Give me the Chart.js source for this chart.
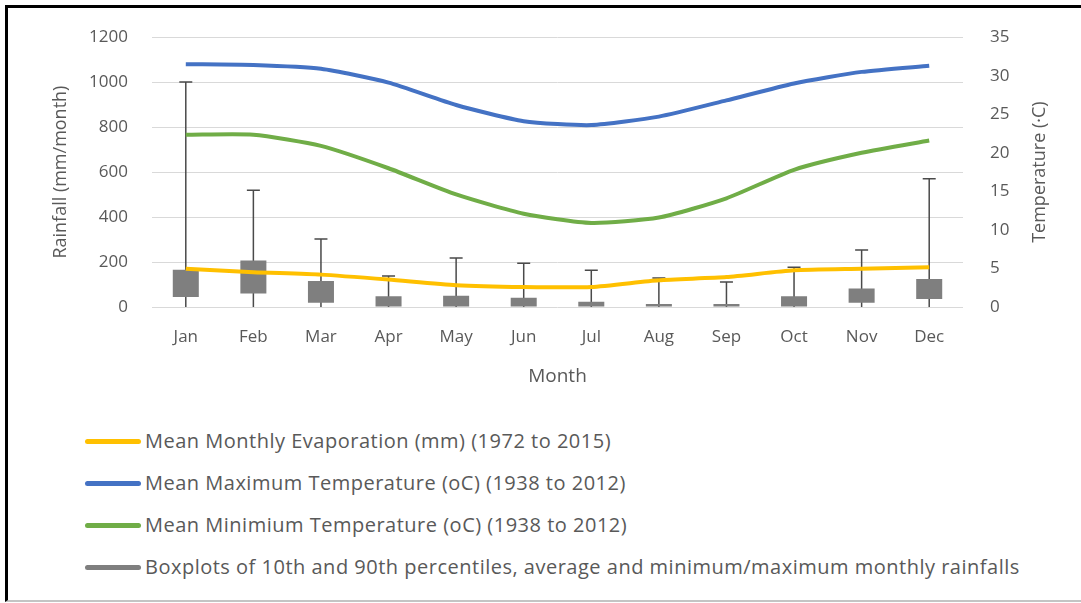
<!DOCTYPE html>
<html>
<head>
<meta charset="utf-8">
<script src="https://cdn.jsdelivr.net/npm/chart.js@4/dist/chart.umd.min.js"></script>
<style>
  html, body { margin: 0; padding: 0; background: #fff; overflow: hidden; }
  body { width: 1081px; height: 603px; position: relative; font-family: "Open Sans", sans-serif; }
  #frame {
    position: absolute; left: 5px; top: 5px; width: 1100px; height: 592px;
    border-top: 3px solid #000; border-left: 3px solid #000; border-bottom: 2px solid #c4c4c4;
  }
  #chart { position: absolute; left: 0; top: 0; }
  #legend { position: absolute; left: 85px; top: 420px; }
  .item { position: absolute; left: 0; height: 24px; white-space: nowrap; }
  .swatch { position: absolute; left: 0; top: 9px; width: 56px; height: 5px; border-radius: 3px; }
  .label { position: absolute; left: 60px; top: -3px; font-size: 20px; letter-spacing: 0.5px; color: #595959; }
</style>
</head>
<body>
<div id="frame"></div>
<canvas id="chart" width="1081" height="400"></canvas>
<div id="legend"></div>
<script>
const months = ['Jan', 'Feb', 'Mar', 'Apr', 'May', 'Jun', 'Jul', 'Aug', 'Sep', 'Oct', 'Nov', 'Dec'];
const evaporation = [170, 155, 144, 122, 97, 89, 89, 119, 133, 163, 170, 177];
const maxTemp = [31.5, 31.4, 30.9, 29.1, 26.2, 24.1, 23.6, 24.7, 26.8, 29.0, 30.5, 31.3];
const minTemp = [22.35, 22.35, 20.9, 18.0, 14.6, 12.1, 10.9, 11.6, 14.1, 17.8, 20.0, 21.6];
const rainP10 = [45, 60, 19, 0, 0, 0, 0, 0, 0, 0, 19, 36];
const rainP90 = [166, 207, 116, 48, 50, 41, 23, 13, 13, 48, 82, 124];
const rainMin = [0, 0, 0, 0, 0, 0, 0, 0, 0, 0, 0, 0];
const rainMax = [1001, 519, 302, 138, 218, 195, 163, 129, 111, 177, 254, 570];

const grey = '#595959';
const font = 'Open Sans';
const rightTitle = 'Temperature (·C)';

// error bars (min / max) drawn under the boxes
const whiskers = {
  id: 'whiskers',
  beforeDatasetsDraw(chart) {
    const ctx = chart.ctx;
    const x = chart.scales.x;
    const y = chart.scales.y;
    ctx.save();
    ctx.strokeStyle = '#4a4a4a';
    ctx.lineWidth = 1.5;
    months.forEach((m, i) => {
      const px = x.getPixelForValue(i);
      const top = y.getPixelForValue(rainMax[i]);
      const bot = y.getPixelForValue(rainMin[i]);
      ctx.beginPath();
      ctx.moveTo(px, bot);
      ctx.lineTo(px, top);
      ctx.moveTo(px - 6.5, top);
      ctx.lineTo(px + 6.5, top);
      ctx.stroke();
    });
    ctx.restore();
  },
  // right axis title reads bottom to top, like the left one
  afterDraw(chart) {
    const ctx = chart.ctx;
    const s = chart.scales.y2;
    ctx.save();
    ctx.translate(s.right - 11, (chart.chartArea.top + chart.chartArea.bottom) / 2);
    ctx.rotate(-Math.PI / 2);
    ctx.fillStyle = grey;
    ctx.font = '18px "' + font + '"';
    ctx.textAlign = 'center';
    ctx.textBaseline = 'middle';
    ctx.fillText(rightTitle, 0, 0);
    ctx.restore();
  }
};

const boxes = months.map((m, i) => [rainP10[i], rainP90[i]]);

const chart = new Chart(document.getElementById('chart'), {
  type: 'bar',
  data: {
    labels: months,
    datasets: [
      {
        type: 'line', label: 'Mean Monthly Evaporation (mm) (1972 to 2015)',
        data: evaporation, yAxisID: 'y', borderColor: '#ffc000', backgroundColor: '#ffc000',
        borderWidth: 4, pointRadius: 0, tension: 0.2, order: 1
      },
      {
        type: 'line', label: 'Mean Maximum Temperature (oC) (1938 to 2012)',
        data: maxTemp, yAxisID: 'y2', borderColor: '#4472c4', backgroundColor: '#4472c4',
        borderWidth: 4, pointRadius: 0, tension: 0.2, order: 2
      },
      {
        type: 'line', label: 'Mean Minimium Temperature (oC) (1938 to 2012)',
        data: minTemp, yAxisID: 'y2', borderColor: '#70ad47', backgroundColor: '#70ad47',
        borderWidth: 4, pointRadius: 0, tension: 0.2, order: 3
      },
      {
        type: 'bar', label: 'Boxplots of 10th and 90th percentiles, average and minimum/maximum monthly rainfalls',
        data: boxes, yAxisID: 'y', backgroundColor: '#7f7f7f', borderColor: '#7f7f7f',
        borderWidth: 0, borderSkipped: false, categoryPercentage: 1, barPercentage: 0.385, order: 10
      }
    ]
  },
  options: {
    responsive: false,
    animation: false,
    layout: { padding: { left: 46, right: 30, top: 34, bottom: 8 } },
    plugins: { legend: { display: false }, tooltip: { enabled: false } },
    scales: {
      x: {
        grid: { display: false },
        border: { display: false },
        ticks: { color: grey, font: { family: font, size: 17 }, padding: 12 },
        title: { display: true, text: 'Month', color: grey, font: { family: font, size: 19 } },
        afterFit(s) { s.height = 400 - 307 - 8; }
      },
      y: {
        position: 'left', min: 0, max: 1200,
        grid: { color: '#d9d9d9', lineWidth: 1, drawTicks: false },
        border: { display: false },
        ticks: { stepSize: 200, color: grey, font: { family: font, size: 17 }, padding: 24, callback: v => String(v) },
        title: { display: true, text: 'Rainfall (mm/month)', color: grey, font: { family: font, size: 18 } },
        afterFit(s) { s.width = 152 - 46; }
      },
      y2: {
        position: 'right', min: 0, max: 35,
        grid: { drawOnChartArea: false, drawTicks: false },
        border: { display: false },
        ticks: { stepSize: 5, color: grey, font: { family: font, size: 17 }, padding: 27 },
        afterFit(s) { s.width = 1081 - 963 - 30; }
      }
    }
  },
  plugins: [whiskers]
});

// legend listed vertically below the plot
const legend = document.getElementById('legend');
chart.data.datasets.forEach((ds, i) => {
  const item = document.createElement('div');
  item.className = 'item';
  item.style.top = (i * 42 + 10) + 'px';
  const sw = document.createElement('div');
  sw.className = 'swatch';
  sw.style.background = ds.borderColor;
  const lab = document.createElement('div');
  lab.className = 'label';
  lab.textContent = ds.label;
  item.appendChild(sw);
  item.appendChild(lab);
  legend.appendChild(item);
});
</script>
</body>
</html>
